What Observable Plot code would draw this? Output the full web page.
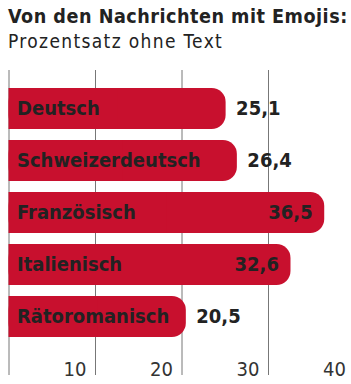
<!DOCTYPE html>
<html>
<head>
<meta charset="utf-8">
<script src="https://cdn.jsdelivr.net/npm/d3@7"></script>
<script src="https://cdn.jsdelivr.net/npm/@observablehq/plot@0.6"></script>
<style>
  html, body { margin: 0; padding: 0; background: #fff; }
  body { width: 351px; height: 384px; overflow: hidden; font-family: "DejaVu Sans Condensed", "DejaVu Sans", sans-serif; }
  #title { position: absolute; left: 8px; top: 5px; font-size: 19.6px; letter-spacing: 0.5px; font-weight: bold; color: #222; white-space: nowrap; }
  #subtitle { position: absolute; left: 8px; top: 30px; font-size: 19px; letter-spacing: 1.35px; color: #222; white-space: nowrap; }
  #chart { position: absolute; left: 0; top: 56px; }
</style>
</head>
<body>
<div id="title">Von den Nachrichten mit Emojis:</div>
<div id="subtitle">Prozentsatz ohne Text</div>
<div id="chart"></div>
<script>
const languages = ["Deutsch", "Schweizerdeutsch", "Französisch", "Italienisch", "Rätoromanisch"];
const values = [25.1, 26.4, 36.5, 32.6, 20.5];
const tickValues = [0, 10, 20, 30, 40];
const tickLabels = ["", "10", "20", "30", "40"];

const data = languages.map((l, i) => ({lang: l, value: values[i]}));
const ticks = tickValues.map((t, i) => ({t, label: tickLabels[i]}));
const fmt = v => v.toFixed(1).replace(".", ",");
const red = "#c8102e";
const ink = "#222";
const font = "DejaVu Sans Condensed";

const chart = Plot.plot({
  width: 351,
  height: 328,
  marginTop: 14,
  marginBottom: 9,
  marginLeft: 8.5,
  marginRight: 0,
  x: {domain: [0, 40], range: [8.5, 354.5], axis: null},
  y: {domain: languages, range: [24, 288], paddingInner: 0.22, paddingOuter: 0.11, axis: null},
  style: {fontFamily: font, background: "transparent"},
  marks: [
    Plot.ruleX(tickValues, {stroke: "#777", strokeWidth: 1}),
    Plot.barX(data, {y: "lang", x1: 0, x2: "value", fill: red, rx: 14}),
    Plot.barX(data, {y: "lang", x1: 0, x2: d => d.value / 2, fill: red}),
    Plot.text(data, {y: "lang", x: 0, text: "lang", textAnchor: "start", dx: 8, fill: ink, fontWeight: "bold", fontSize: 20}),
    Plot.text(data.filter(d => d.value > 30), {y: "lang", x: "value", text: d => fmt(d.value), textAnchor: "end", dx: -12, fill: ink, fontWeight: "bold", fontSize: 20}),
    Plot.text(data.filter(d => d.value <= 30), {y: "lang", x: "value", text: d => fmt(d.value), textAnchor: "start", dx: 10, fill: ink, fontWeight: "bold", fontSize: 20}),
    Plot.text(ticks, {x: "t", text: "label", frameAnchor: "bottom", lineAnchor: "bottom", textAnchor: "end", dx: -9, dy: 0, fill: "#333", fontSize: 20})
  ]
});
document.getElementById("chart").appendChild(chart);
</script>
</body>
</html>
